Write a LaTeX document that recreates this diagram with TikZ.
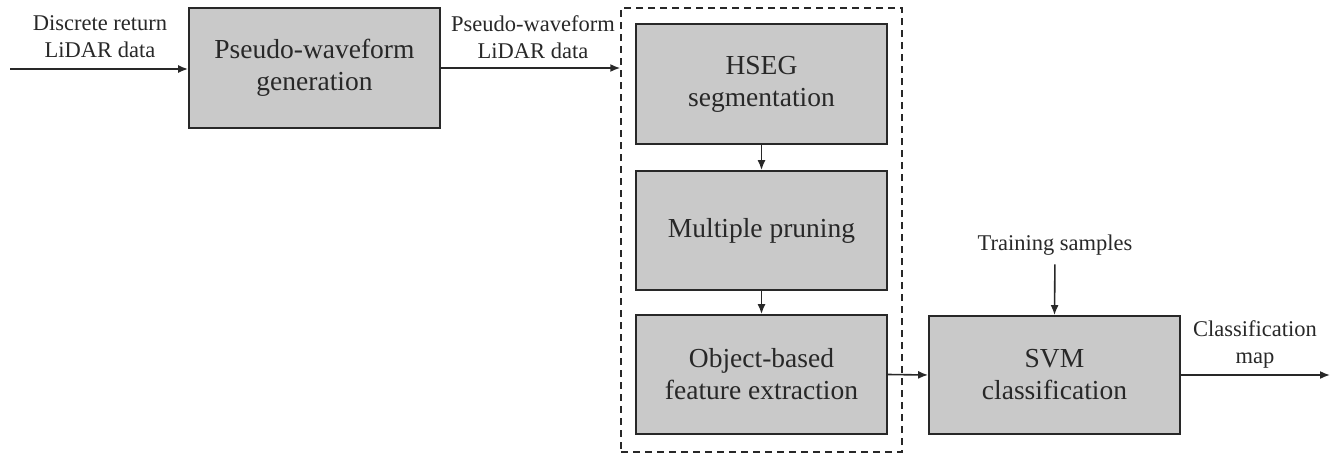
\documentclass[tikz,border=0pt]{standalone}
\usepackage{fontspec}
\setmainfont{Liberation Serif}
\usetikzlibrary{arrows.meta}
\definecolor{boxfill}{RGB}{201,201,201}
\definecolor{ink}{RGB}{40,40,40}
\begin{document}
\begin{tikzpicture}[x=1pt,y=-1pt,
  procbox/.style={draw=ink, line width=1.8pt, fill=boxfill, align=center, inner sep=0pt, font=\fontsize{27.5}{32}\selectfont, text=ink},
  lbl/.style={align=center, inner sep=0pt, font=\fontsize{22.5}{27}\selectfont, text=ink},
  arr/.style={draw=ink, line width=1.6pt, -{Latex[length=10pt,width=8pt]}},
  groupbox/.style={draw=ink, line width=1.5pt, dash pattern=on 7pt off 5pt}]
\useasboundingbox (0,0) rectangle (1331,455);
\node[procbox, minimum width=251pt, minimum height=120pt] (pwg) at (314.5,68) {Pseudo-waveform\\generation};
\node[groupbox, minimum width=281pt, minimum height=444pt, inner sep=0pt] (grp) at (761.5,230) {};
\node[procbox, minimum width=251pt, minimum height=120pt] (hseg) at (761.5,84) {HSEG\\segmentation};
\node[procbox, minimum width=251pt, minimum height=119pt] (prune) at (761.5,230.5) {Multiple pruning};
\node[procbox, minimum width=251pt, minimum height=119pt] (obj) at (761.5,374.5) {Object-based\\feature extraction};
\node[procbox, minimum width=251pt, minimum height=118pt] (svm) at (1054.5,375) {SVM\\classification};
\node[lbl] (l1) at (100,37) {Discrete return\\LiDAR data};
\node[lbl] (l2) at (533,37) {Pseudo-waveform\\LiDAR data};
\node[lbl] (train) at (1055,245) {Training samples};
\node[lbl] (l3) at (1255,344) {Classification\\map};
\coordinate (start) at (10,69);
\coordinate (finish) at (1330,375);
\draw[arr] (start) -- (pwg.west |- start);
\draw[arr] (pwg.east) -- (grp.west |- pwg.east);
\draw[arr] (hseg) -- (prune);
\draw[arr] (prune) -- (obj);
\draw[arr] (obj.east) -- (svm.west);
\draw[arr, shorten <=9pt] (train.south) -- (svm.north);
\draw[arr] (svm.east) -- (finish);
\end{tikzpicture}
\end{document}
